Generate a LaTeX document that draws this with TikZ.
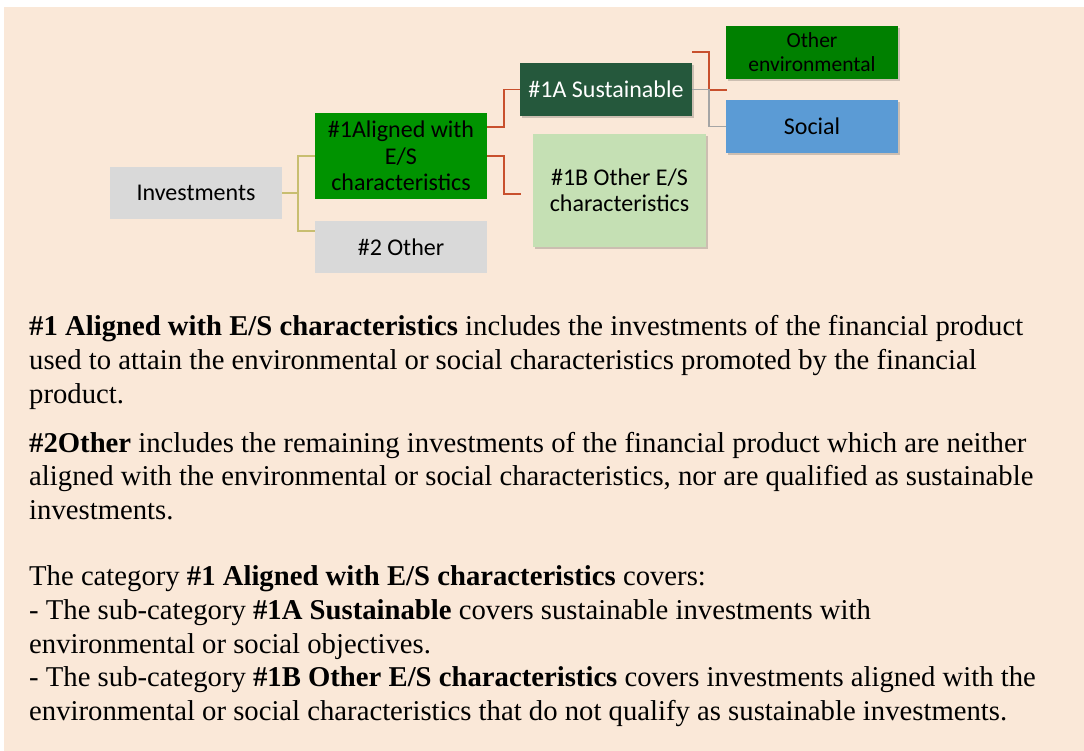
\documentclass[tikz,border=0pt]{standalone}
\usepackage{fontspec}
\setmainfont{Liberation Serif}
\newfontfamily\diafont{Carlito}
\usetikzlibrary{shadows}
\definecolor{bgpeach}{RGB}{250,232,216}
\definecolor{boxgray}{RGB}{217,217,217}
\definecolor{aligngreen}{RGB}{0,147,0}
\definecolor{envgreen}{RGB}{0,128,0}
\definecolor{sustgreen}{RGB}{37,88,60}
\definecolor{lightgreen}{RGB}{197,224,180}
\definecolor{socialblue}{RGB}{91,155,213}
\definecolor{tanline}{RGB}{200,190,112}
\definecolor{redline}{RGB}{200,80,45}
\definecolor{grayline}{RGB}{165,165,165}
\tikzset{
  box/.style={rectangle, inner sep=0pt, align=center, font=\diafont\fontsize{24}{26.5}\selectfont},
  shad/.style={drop shadow={shadow xshift=1.5pt, shadow yshift=-2.5pt, opacity=0.18, fill=black}},
  txt/.style={anchor=base west, inner sep=0pt, font=\fontsize{28.7}{34}\selectfont},
  conn/.style={line width=1.3pt},
}
\begin{document}
\begin{tikzpicture}[x=1pt,y=-1pt]
\useasboundingbox (0,0) rectangle (1084,751);
\fill[bgpeach] (4,7) rectangle (1084,751);
% nodes
\node[box, fill=boxgray, minimum width=172pt, minimum height=52pt] (inv) at (196,193) {Investments};
\node[box, fill=aligngreen, minimum width=172pt, minimum height=86pt] (al) at (401,156) {\#1Aligned with\\E/S\\characteristics};
\node[box, fill=boxgray, minimum width=172pt, minimum height=52pt] (oth) at (401,247) {\#2 Other};
\node[box, shad, fill=sustgreen, text=white, minimum width=172pt, minimum height=53pt] (sus) at (606,89.5) {\#1A Sustainable};
\node[box, shad, fill=lightgreen, minimum width=173pt, minimum height=113pt] (oes) at (619.5,190.5) {\#1B Other E/S\\characteristics};
\node[box, shad, fill=envgreen, minimum width=172pt, minimum height=53pt, font=\diafont\fontsize{21.5}{24}\selectfont] (env) at (812,52.5) {Other\\environmental};
\node[box, shad, fill=socialblue, minimum width=172pt, minimum height=53pt] (soc) at (812,126.5) {Social};
% connectors
\coordinate (al1) at (487,127);
\coordinate (al2) at (487,156);
\coordinate (b1end) at (521,194);
\coordinate (s1) at (692,52);
\coordinate (e1end) at (727,90);
\coordinate (o1) at (315,231);
\draw[conn, tanline] (inv.east) -- (298,193) |- (al.west);
\draw[conn, tanline] (298,193) |- (o1);
\draw[conn, redline] (al1) -- (504,127) |- (sus.west);
\draw[conn, redline] (al2) -- (504,156) |- (b1end);
\draw[conn, redline] (s1) -- (709,52) |- (e1end);
\draw[conn, grayline] (sus.east) -- (709,89.5) |- (soc.west);
% text
\node[txt] (l1) at (29,335) {\textbf{\#1 Aligned with E/S characteristics} includes the investments of the financial product};
\node[txt] (l2) at (29,369) {used to attain the environmental or social characteristics promoted by the financial};
\node[txt] (l3) at (29,403) {product.};
\node[txt] (l4) at (29,452) {\textbf{\#2Other} includes the remaining investments of the financial product which are neither};
\node[txt] (l5) at (29,485) {aligned with the environmental or social characteristics, nor are qualified as sustainable};
\node[txt] (l6) at (29,519) {investments.};
\node[txt] (l7) at (29,585) {The category \textbf{\#1 Aligned with E/S characteristics} covers:};
\node[txt] (l8) at (29,619) {- The sub-category \textbf{\#1A Sustainable} covers sustainable investments with};
\node[txt] (l9) at (29,653) {environmental or social objectives.};
\node[txt] (l10) at (29,686) {- The sub-category \textbf{\#1B Other E/S characteristics} covers investments aligned with the};
\node[txt] (l11) at (29,720) {environmental or social characteristics that do not qualify as sustainable investments.};
\end{tikzpicture}
\end{document}
